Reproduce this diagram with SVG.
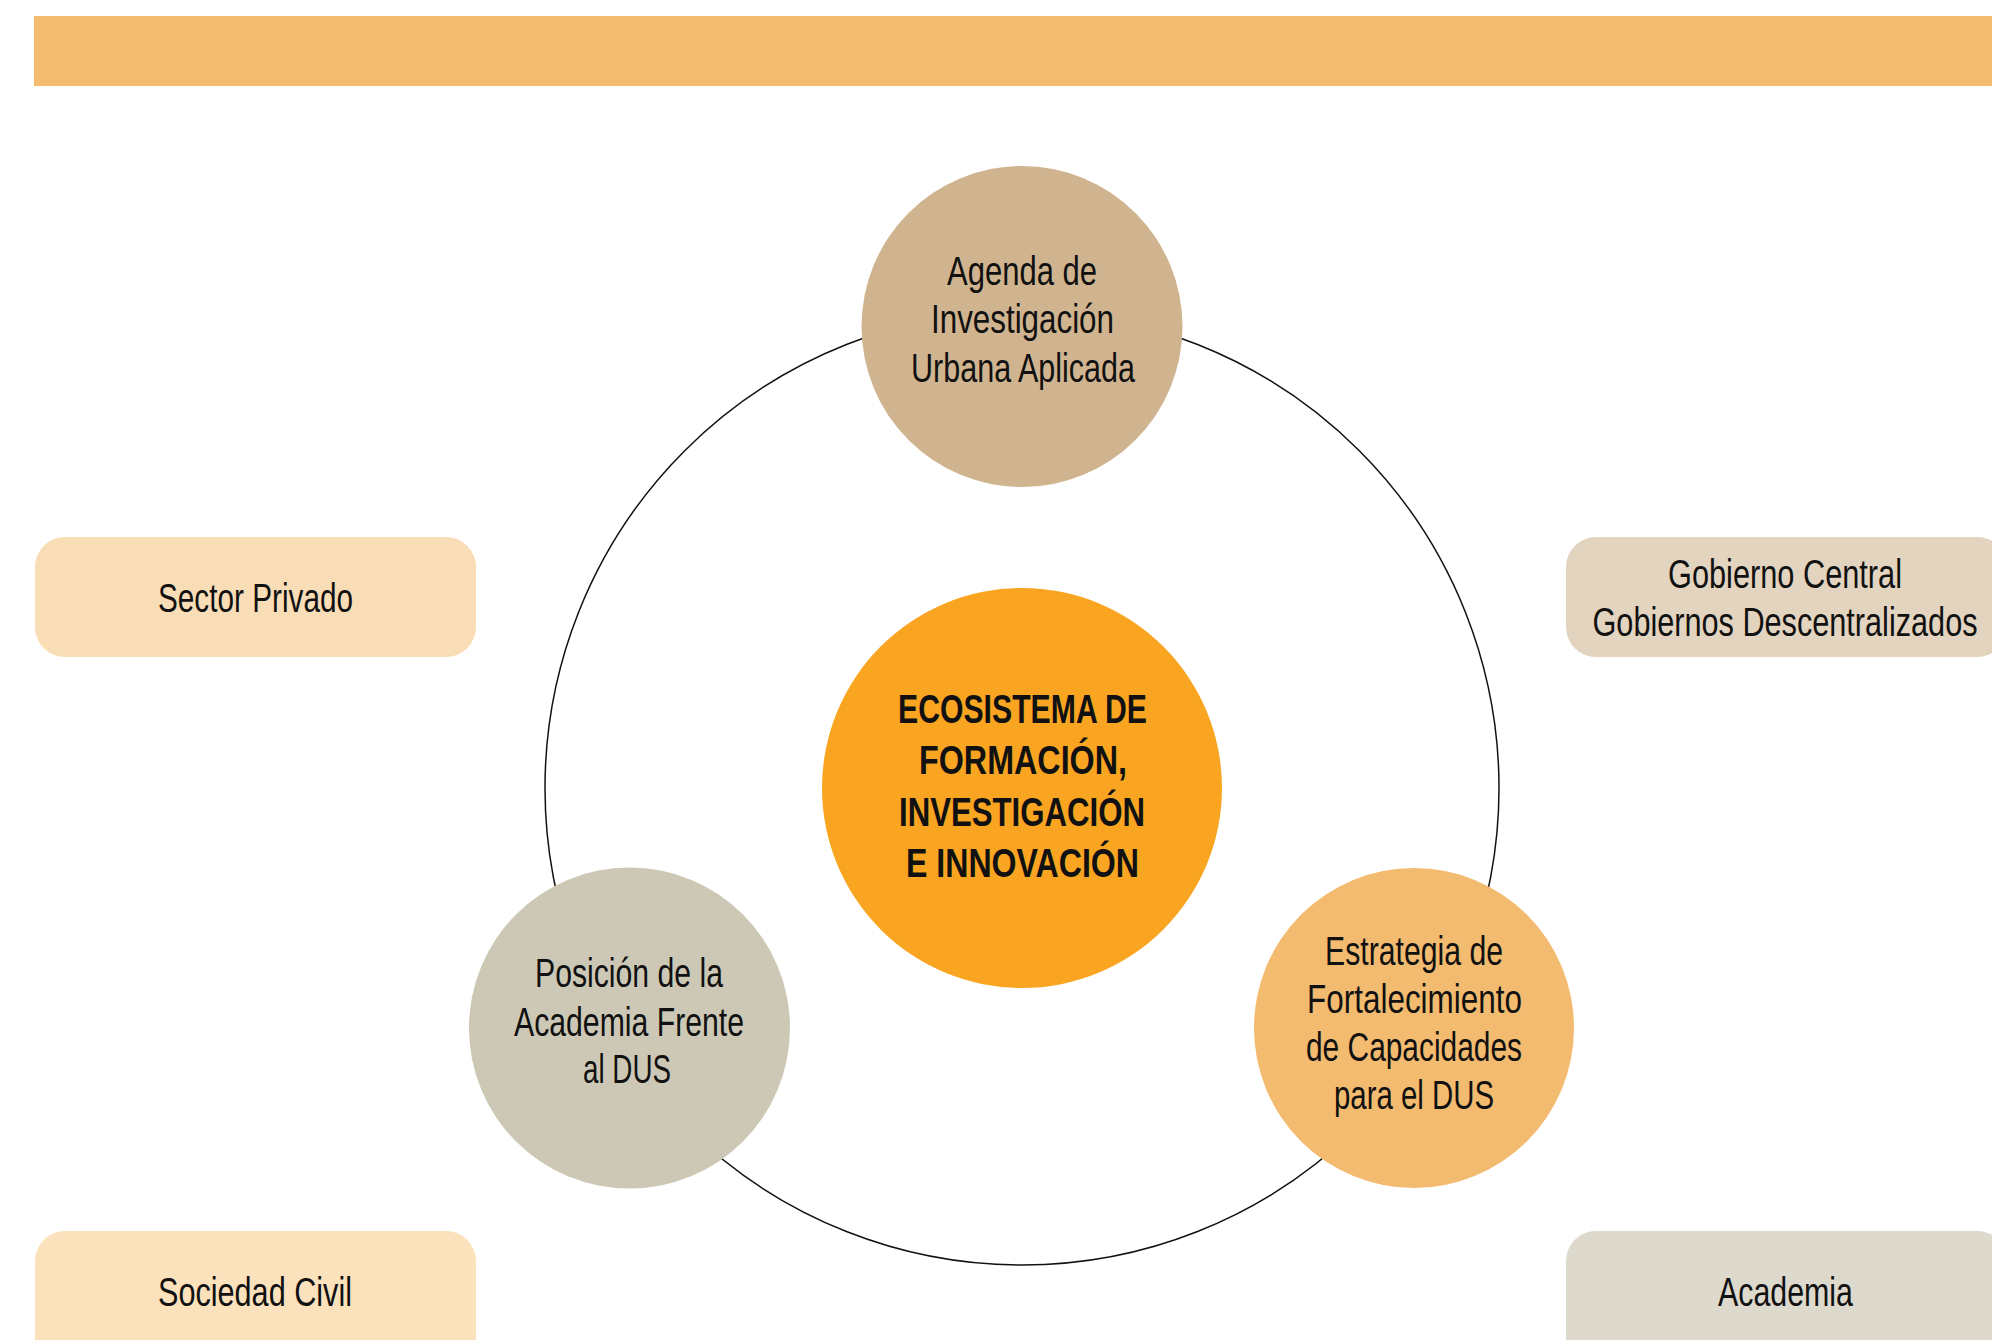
<svg xmlns="http://www.w3.org/2000/svg" width="1992" height="1340" viewBox="0 0 1992 1340">
  <style>
    .t { font-family: "Liberation Sans Narrow", "Liberation Sans", "DejaVu Sans", sans-serif; font-size: 40px; fill: #111111; text-anchor: middle; }
    .b { font-weight: bold; }
    .ring { fill: none; stroke: #111111; stroke-width: 1.5; }
  </style>
  <rect x="0" y="0" width="1992" height="1340" fill="#FFFFFF"/>
  <rect id="top-bar" x="34" y="16" width="1958" height="70" fill="#F3BC6F"/>

  <g id="connectors">
    <circle class="ring" cx="1022" cy="788" r="477"/>
  </g>

  <g id="node-sector-privado">
    <rect x="35" y="537" width="441" height="120" rx="30" fill="#F9DDB6"/>
    <text class="t" x="255.5" y="612" textLength="195" lengthAdjust="spacingAndGlyphs">Sector Privado</text>
  </g>

  <g id="node-gobierno">
    <rect x="1566" y="537" width="441" height="120" rx="30" fill="#E3D4BF"/>
    <text class="t" x="1785" y="588" textLength="234" lengthAdjust="spacingAndGlyphs">Gobierno Central</text>
    <text class="t" x="1785" y="636" textLength="385" lengthAdjust="spacingAndGlyphs">Gobiernos Descentralizados</text>
  </g>

  <g id="node-sociedad-civil">
    <rect x="35" y="1231" width="441" height="140" rx="30" fill="#FCE2BC"/>
    <text class="t" x="255" y="1306" textLength="194" lengthAdjust="spacingAndGlyphs">Sociedad Civil</text>
  </g>

  <g id="node-academia">
    <rect x="1566" y="1231" width="441" height="140" rx="30" fill="#DDD9CD"/>
    <text class="t" x="1785.5" y="1306" textLength="135" lengthAdjust="spacingAndGlyphs">Academia</text>
  </g>

  <g id="node-agenda">
    <circle cx="1022" cy="326.5" r="160.5" fill="#D0B490"/>
    <text class="t" x="1022" y="285" textLength="150" lengthAdjust="spacingAndGlyphs">Agenda de</text>
    <text class="t" x="1022.5" y="333" textLength="183" lengthAdjust="spacingAndGlyphs">Investigación</text>
    <text class="t" x="1023" y="382" textLength="224" lengthAdjust="spacingAndGlyphs">Urbana Aplicada</text>
  </g>

  <g id="node-ecosistema">
    <circle cx="1022" cy="788" r="200" fill="#F9A521"/>
    <text class="t b" x="1022.5" y="723" textLength="249" lengthAdjust="spacingAndGlyphs">ECOSISTEMA DE</text>
    <text class="t b" x="1023" y="774" textLength="208" lengthAdjust="spacingAndGlyphs">FORMACIÓN,</text>
    <text class="t b" x="1022" y="826" textLength="246" lengthAdjust="spacingAndGlyphs">INVESTIGACIÓN</text>
    <text class="t b" x="1022.5" y="877" textLength="233" lengthAdjust="spacingAndGlyphs">E INNOVACIÓN</text>
  </g>

  <g id="node-posicion">
    <circle cx="629.5" cy="1028" r="160.5" fill="#CCC8B5"/>
    <text class="t" x="629" y="987" textLength="188" lengthAdjust="spacingAndGlyphs">Posición de la</text>
    <text class="t" x="629" y="1036" textLength="230" lengthAdjust="spacingAndGlyphs">Academia Frente</text>
    <text class="t" x="627" y="1083" textLength="88" lengthAdjust="spacingAndGlyphs">al DUS</text>
  </g>

  <g id="node-estrategia">
    <circle cx="1414" cy="1028" r="160" fill="#F3BB6F"/>
    <text class="t" x="1414" y="965" textLength="178" lengthAdjust="spacingAndGlyphs">Estrategia de</text>
    <text class="t" x="1414.5" y="1013" textLength="215" lengthAdjust="spacingAndGlyphs">Fortalecimiento</text>
    <text class="t" x="1414" y="1061" textLength="216" lengthAdjust="spacingAndGlyphs">de Capacidades</text>
    <text class="t" x="1414" y="1109" textLength="160" lengthAdjust="spacingAndGlyphs">para el DUS</text>
  </g>
</svg>
